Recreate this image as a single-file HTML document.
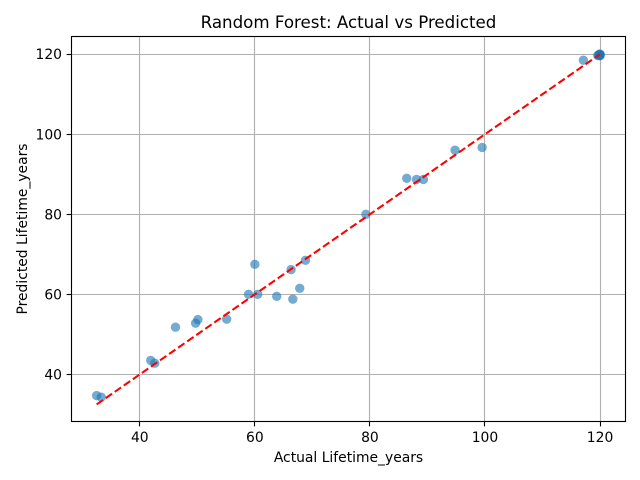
<!DOCTYPE html>
<html>
<head>
<meta charset="utf-8">
<title>Random Forest: Actual vs Predicted</title>
<style>
html,body{margin:0;padding:0;background:#fff;}
svg{display:block;}
text{font-family:"DejaVu Sans",sans-serif;fill:#000;}
</style>
</head>
<body>
<svg id="chart" xmlns="http://www.w3.org/2000/svg" width="640" height="480" viewBox="0 0 640 480">
<rect x="0" y="0" width="640" height="480" fill="#fff"/>
<g id="grid"></g>
<g id="points"></g>
<g id="fit"></g>
<rect x="71.5" y="36.5" width="554" height="385" fill="none" stroke="#000" stroke-width="1.11"/>
<g id="ticks"></g>
<text x="348.5" y="28" font-size="16.67" text-anchor="middle">Random Forest: Actual vs Predicted</text>
<text x="348.5" y="462" font-size="13.89" text-anchor="middle">Actual Lifetime_years</text>
<text x="27" y="229" font-size="13.89" text-anchor="middle" transform="rotate(-90 27 229)">Predicted Lifetime_years</text>
</svg>
<script>
const xTickLabels = [40, 60, 80, 100, 120];
const yTickLabels = [40, 60, 80, 100, 120];
const actualValues = [32.5, 33.3, 41.9, 42.6, 46.2, 49.7, 50.1, 55.1, 58.9, 60.0, 60.5, 63.8, 66.3, 66.6, 67.8, 68.8, 79.3, 86.4, 88.1, 89.3, 94.8, 99.5, 117.1, 119.6, 119.8, 119.9, 120.0, 120.0, 120.0, 120.0, 119.9];
const predictedValues = [34.7, 34.3, 43.5, 42.8, 51.8, 52.8, 53.7, 53.8, 60.0, 67.5, 60.0, 59.5, 66.2, 58.8, 61.5, 68.5, 80.0, 89.0, 88.7, 88.7, 96.0, 96.7, 118.5, 119.7, 119.8, 120.0, 120.0, 119.8, 119.6, 119.9, 119.7];
const referenceLine = [32.5, 120];

const svgNS = 'http://www.w3.org/2000/svg';
const xScale = v => 139.8 + (v - 40) * 5.753;
const yScale = v => 374.4 - (v - 40) * 4.0025;
const plot = {left: 71.5, right: 625.5, top: 36.5, bottom: 421.5};

function make(tag, attrs, parent) {
  const el = document.createElementNS(svgNS, tag);
  for (const k in attrs) el.setAttribute(k, attrs[k]);
  parent.appendChild(el);
  return el;
}

const grid = document.getElementById('grid');
const ticks = document.getElementById('ticks');
const points = document.getElementById('points');
const fit = document.getElementById('fit');

xTickLabels.forEach(v => {
  const x = Math.floor(xScale(v)) + 0.5;
  const g = make('line', {x1: x, x2: x, y1: plot.top, y2: plot.bottom, stroke: '#b0b0b0', 'stroke-width': 1.11}, grid);
  
  
  const t = make('line', {x1: x, x2: x, y1: plot.bottom, y2: plot.bottom + 4.86, stroke: '#000', 'stroke-width': 1.11}, ticks);
  
  
  const l = make('text', {x: xScale(v), y: 442, 'font-size': 13.89, 'text-anchor': 'middle'}, ticks);
  l.textContent = v;
  
  
});

yTickLabels.forEach(v => {
  const y = Math.floor(yScale(v)) + 0.5;
  const g = make('line', {x1: plot.left, x2: plot.right, y1: y, y2: y, stroke: '#b0b0b0', 'stroke-width': 1.11}, grid);
  
  
  const t = make('line', {x1: plot.left - 4.86, x2: plot.left, y1: y, y2: y, stroke: '#000', 'stroke-width': 1.11}, ticks);
  
  
  const l = make('text', {x: 62, y: yScale(v) + 5, 'font-size': 13.89, 'text-anchor': 'end'}, ticks);
  l.textContent = v;
  
  
});

actualValues.forEach((a, i) => {
  const c = make('circle', {cx: xScale(a), cy: yScale(predictedValues[i]), r: 4.7, fill: '#1f77b4', 'fill-opacity': 0.62}, points);
  
  
});

const refLine = make('line', {x1: xScale(referenceLine[0]), y1: yScale(referenceLine[0]), x2: xScale(referenceLine[1]), y2: yScale(referenceLine[1]), stroke: '#ff0000', 'stroke-width': 2.08, 'stroke-dasharray': '7.7 3.33'}, fit);


</script>
</body>
</html>
